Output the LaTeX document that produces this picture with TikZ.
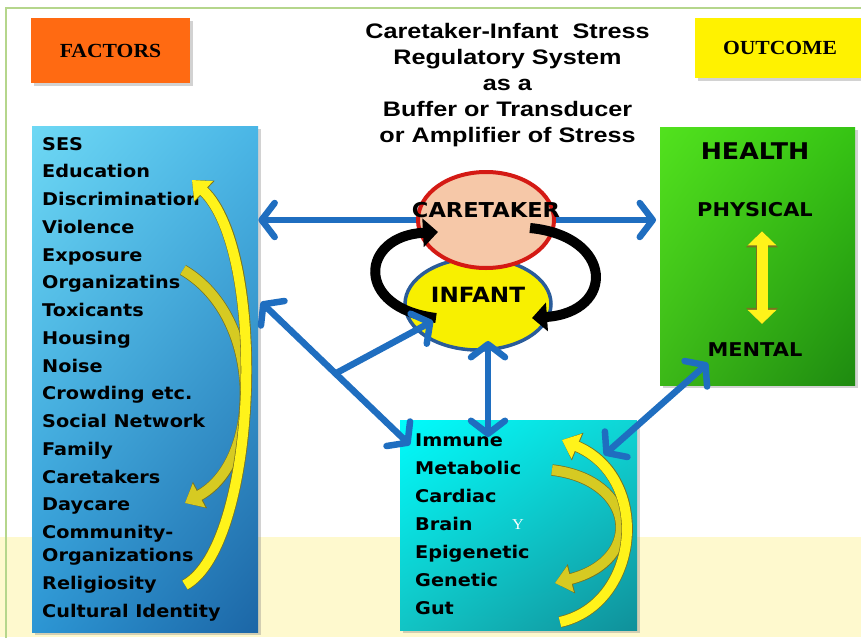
\documentclass[tikz,border=0pt]{standalone}
\usepackage{fontspec}
\newfontfamily\listfont[FakeStretch=1.1]{DejaVu Sans}
\newfontfamily\headfont[FakeStretch=1.2]{Liberation Sans}
\newfontfamily\labfont[FakeStretch=1.08]{Liberation Serif}
\usepackage{tikz}
\usetikzlibrary{arrows.meta,positioning,shapes.geometric,shadows,shadings}

\definecolor{arrblue}{HTML}{1F6EC0}
\definecolor{bandyel}{HTML}{FEF9CE}
\definecolor{framegrn}{HTML}{B5D68C}
\definecolor{factorg}{HTML}{FF6A12}
\definecolor{outyel}{HTML}{FFF200}
\definecolor{peach}{HTML}{F6C8A8}
\definecolor{carered}{HTML}{D41A14}
\definecolor{infblue}{HTML}{2A5C9A}
\definecolor{infyel}{HTML}{F8F000}
\definecolor{brightyel}{HTML}{FFF31A}
\definecolor{oliveyel}{HTML}{D6CA22}
\definecolor{edgeolive}{HTML}{7A7420}
\definecolor{fUL}{HTML}{6ED8F4}
\definecolor{fUR}{HTML}{4AB6E6}
\definecolor{fLL}{HTML}{2C96D4}
\definecolor{fLR}{HTML}{1C66A6}
\definecolor{hUL}{HTML}{52E21E}
\definecolor{hUR}{HTML}{36C414}
\definecolor{hLL}{HTML}{3CB818}
\definecolor{hLR}{HTML}{1E8A10}
\definecolor{sUL}{HTML}{00FCFC}
\definecolor{sUR}{HTML}{10D4D4}
\definecolor{sLL}{HTML}{12C4C4}
\definecolor{sLR}{HTML}{10909A}

\pgfdeclarelayer{bg}
\pgfdeclarelayer{front}
\pgfsetlayers{bg,main,front}

\begin{document}
\begin{tikzpicture}[x=1pt,y=-1pt,
    panel/.style={draw=none, inner sep=0pt, anchor=north west,
      drop shadow={shadow xshift=3pt, shadow yshift=-3pt, opacity=0.35}},
    tag/.style={panel, anchor=center, font=\labfont\bfseries\fontsize{20}{22}\selectfont},
    lst/.style={font=\listfont\bfseries\fontsize{17.5}{27.75}\selectfont, align=left, anchor=north west, inner sep=0pt},
    hlab/.style={font=\listfont\bfseries\fontsize{19}{21}\selectfont, inner sep=0pt},
    blob/.style={ellipse, inner sep=0pt, font=\listfont\bfseries\fontsize{20.5}{22}\selectfont},
    blu/.style={arrblue, line width=6.5pt, line cap=round,
      {Straight Barb[round,length=13pt,width=34pt]}-{Straight Barb[round,length=13pt,width=34pt]}},
    blu1/.style={arrblue, line width=6.5pt, line cap=round, -{Straight Barb[round,length=13pt,width=34pt]}},
    yarr/.style={line width=10pt, draw=#1,
      preaction={draw=edgeolive, line width=11.5pt, -{Triangle[length=17pt,width=29pt]}},
      -{Triangle[length=16pt,width=26pt]}},
    barr/.style={line width=10pt, black, -{Triangle[length=15pt,width=28pt]}},
  ]
  \useasboundingbox (0,0) rectangle (861,637);

  \begin{pgfonlayer}{bg}
    \fill[white] (0,0) rectangle (861,637);
    \fill[bandyel] (0,537) rectangle (861,637);
    \draw[framegrn, line width=1.5pt] (6,8) rectangle (880,660);
  \end{pgfonlayer}

  \begin{pgfonlayer}{front}
    \node[blob, draw=infblue, line width=3.5pt, fill=infyel, minimum width=146pt, minimum height=92pt]
      (inf) at (478,304) {\smash{\makebox[0pt]{\raisebox{1.5pt}{\fontsize{21}{22}\selectfont INFANT}}}};
    \node[blob, draw=carered, line width=4pt, fill=peach, minimum width=136pt, minimum height=96pt]
      (care) at (486,220) {\smash{\makebox[0pt]{\raisebox{2.5pt}{CARETAKER}}}};
    \coordinate (bl1) at (436,318);
    \coordinate (bl2) at (438,232);
    \coordinate (br1) at (530,228);
    \coordinate (br2) at (532,318);
    \draw[barr] (bl1) .. controls (354,308) and (360,236) .. (bl2);
    \draw[barr] (br1) .. controls (614,236) and (616,312) .. (br2);
  \end{pgfonlayer}

  \node[tag, fill=factorg, minimum width=159pt, minimum height=65pt] (factors) at (110.5,50.5) {FACTORS};
  \node[tag, fill=outyel, minimum width=170pt, minimum height=60pt] (outcome) at (780,48) {OUTCOME};
  \node[font=\headfont\bfseries\fontsize{21}{25.8}\selectfont, align=center] (ttl) at (507.5,85)
    {Caretaker-Infant\ \ Stress\\Regulatory System\\as a\\Buffer or Transducer\\or Amplifier of Stress};

  \node[panel, minimum width=226pt, minimum height=506pt,
    upper left=fUL, upper right=fUR, lower left=fLL, lower right=fLR] (fact) at (32,126) {};
  \node[lst] (flist) at (42,137)
    {SES\\Education\\Discrimination\\Violence\\Exposure\\Organizatins\\Toxicants\\Housing\\Noise\\
     Crowding etc.\\Social Network\\Family\\Caretakers\\Daycare\\Community-\\[-4.75pt]Organizations\\
     Religiosity\\Cultural Identity};

  \node[panel, minimum width=195pt, minimum height=258pt,
    upper left=hUL, upper right=hUR, lower left=hLL, lower right=hLR] (health) at (660,127) {};
  \node[hlab, font=\listfont\bfseries\fontsize{23}{25}\selectfont] (hh) at (755,151) {HEALTH};
  \node[hlab] (phys) at (755,210) {PHYSICAL};
  \node[hlab] (ment) at (755,350) {MENTAL};

  \node[panel, minimum width=237pt, minimum height=210pt,
    upper left=sUL, upper right=sUR, lower left=sLL, lower right=sLR] (sys) at (400,420) {};
  \node[lst, font=\listfont\bfseries\fontsize{17.5}{28}\selectfont] (slist) at (415,434)
    {Immune\\Metabolic\\Cardiac\\Brain\\Epigenetic\\Genetic\\Gut};
  \node[font=\labfont\fontsize{15}{15}\selectfont, text=white] (yy) at (518,525) {Y};

  \coordinate (fa1) at (185,585);
  \coordinate (fa2) at (192,180);
  \coordinate (fb1) at (183,270);
  \coordinate (fb2) at (185,503);
  \draw[yarr=oliveyel] (fb1) .. controls (265,318) and (262,462) .. (fb2);
  \draw[yarr=brightyel] (fa1) .. controls (258,545) and (268,252) .. (fa2);

  \coordinate (sa1) at (560,622);
  \coordinate (sa2) at (562,440);
  \coordinate (sb1) at (552,470);
  \coordinate (sb2) at (555,583);
  \draw[yarr=oliveyel] (sb1) .. controls (636,480) and (645,560) .. (sb2);
  \draw[yarr=brightyel] (sa1) .. controls (640,604) and (652,478) .. (sa2);

  \draw[line width=11pt, draw=brightyel,
    preaction={draw=edgeolive, line width=12.5pt, {Triangle[length=16pt,width=31pt]}-{Triangle[length=16pt,width=31pt]}},
    {Triangle[length=14pt,width=28pt]}-{Triangle[length=14pt,width=28pt]}]
    ([xshift=7pt,yshift=-14pt]phys.south) -- ([xshift=7pt,yshift=19pt]ment.north);

  \coordinate (f1) at (261,302);
  \coordinate (s1) at (410,445);
  \coordinate (s2) at (488,437);
  \coordinate (i2) at (488,341);
  \coordinate (i1) at (433,321);
  \coordinate (h1) at (708,363);
  \coordinate (s3) at (604,455);
  \path (f1) -- (s1) coordinate[pos=0.5] (fork);
  \draw[blu1] (care.center) -- (care.center -| fact.east);
  \draw[blu1] (care.center) -- ([xshift=-4pt]care.center -| health.west);
  \draw[blu] (f1) -- (s1);
  \draw[blu] (h1) -- (s3);
  \begin{pgfonlayer}{front}
    \draw[blu1] (fork) -- (i1);
    \draw[blu] (i2) -- (s2);
  \end{pgfonlayer}
\end{tikzpicture}
\end{document}
